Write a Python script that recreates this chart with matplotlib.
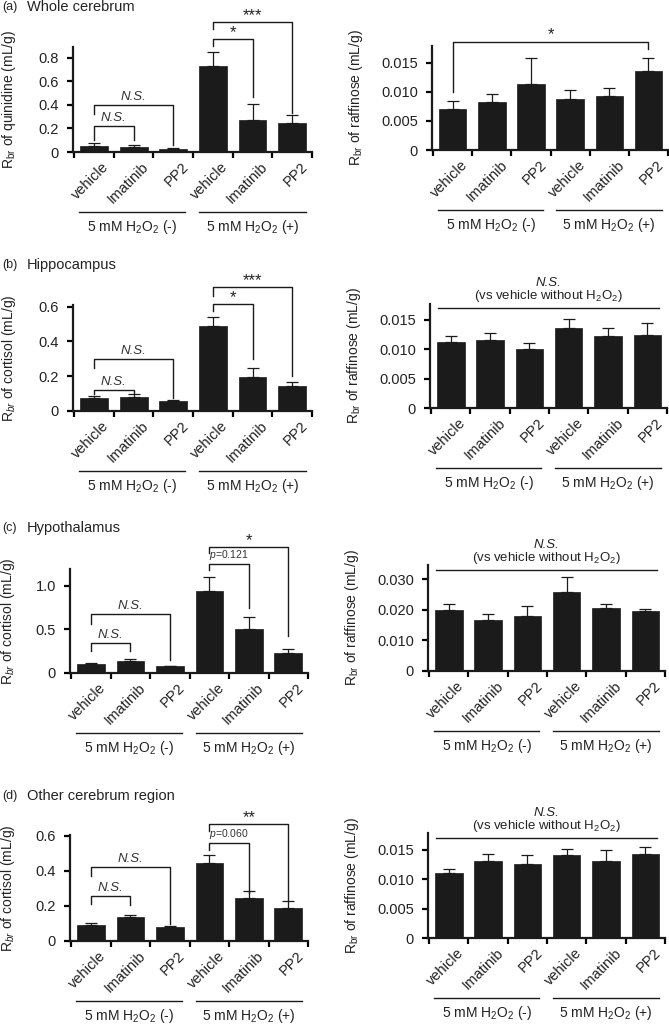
import numpy as np
import matplotlib
matplotlib.use("Agg")
import matplotlib.pyplot as plt
from matplotlib.transforms import ScaledTranslation

plt.rcParams["font.family"] = ["Liberation Sans", "DejaVu Sans"]
plt.rcParams["mathtext.fontset"] = "custom"
plt.rcParams["mathtext.rm"] = "Liberation Sans"
plt.rcParams["mathtext.it"] = "Liberation Sans:italic"

# ---- data ----
categories = ["vehicle", "Imatinib", "PP2", "vehicle", "Imatinib", "PP2"]
groups = ["5 mM H$_2$O$_2$ (-)", "5 mM H$_2$O$_2$ (+)"]

a_quin_mean = [0.050, 0.040, 0.025, 0.730, 0.270, 0.250]
a_quin_err = [0.025, 0.022, 0.006, 0.118, 0.140, 0.065]
a_raf_mean = [0.0071, 0.0083, 0.0114, 0.0087, 0.0093, 0.0136]
a_raf_err = [0.0013, 0.0013, 0.0045, 0.0016, 0.0014, 0.0023]

b_cort_mean = [0.077, 0.083, 0.058, 0.487, 0.194, 0.142]
b_cort_err = [0.007, 0.013, 0.004, 0.055, 0.052, 0.023]
b_raf_mean = [0.0112, 0.0116, 0.0100, 0.0137, 0.0123, 0.0125]
b_raf_err = [0.0011, 0.0011, 0.0010, 0.0014, 0.0013, 0.0020]

c_cort_mean = [0.100, 0.140, 0.076, 0.947, 0.508, 0.229]
c_cort_err = [0.010, 0.020, 0.008, 0.153, 0.133, 0.046]
c_raf_mean = [0.0201, 0.0168, 0.0181, 0.0260, 0.0207, 0.0197]
c_raf_err = [0.0018, 0.0020, 0.0031, 0.0047, 0.0013, 0.0007]

d_cort_mean = [0.094, 0.138, 0.077, 0.443, 0.243, 0.189]
d_cort_err = [0.008, 0.013, 0.008, 0.046, 0.044, 0.037]
d_raf_mean = [0.0110, 0.0130, 0.0126, 0.0141, 0.0131, 0.0143]
d_raf_err = [0.0007, 0.0013, 0.0014, 0.0010, 0.0019, 0.0011]

# brackets: (x1, x2, y_top, y_left_end, y_right_end, label)
a_quin_brackets = [(0, 1, 0.224, 0.10, 0.10, "N.S."), (0, 2, 0.40, 0.318, 0.06, "N.S."),
                   (3, 4, 0.96, 0.90, 0.47, "*"), (3, 5, 1.10, 1.04, 0.33, "***")]
a_raf_brackets = [(0, 5, 0.01866, 0.0100, 0.01746, "*")]
b_cort_brackets = [(0, 1, 0.121, 0.095, 0.105, "N.S."), (0, 2, 0.298, 0.246, 0.073, "N.S."),
                   (3, 4, 0.615, 0.573, 0.298, "*"), (3, 5, 0.712, 0.663, 0.202, "***")]
c_cort_brackets = [(0, 1, 0.344, 0.248, 0.248, "N.S."), (0, 2, 0.676, 0.565, 0.153, "N.S."),
                   (3, 4, 1.248, 1.183, 0.744, "p=0.121"), (3, 5, 1.443, 1.374, 0.42, "*")]
d_cort_brackets = [(0, 1, 0.255, 0.209, 0.205, "N.S."), (0, 2, 0.421, 0.368, 0.097, "N.S."),
                   (3, 4, 0.557, 0.519, 0.274, "p=0.060"), (3, 5, 0.666, 0.628, 0.236, "**")]
raf_ns_y = {"b": 0.0170, "c": 0.0332, "d": 0.01687}

W, H, DPI = 669, 1024, 100
fig = plt.figure(figsize=(W / DPI, H / DPI), dpi=DPI)


def make_axes(x0, x1, ytop, ybot):
    return fig.add_axes([x0 / W, 1 - ybot / H, (x1 - x0) / W, (ybot - ytop) / H])


def offset(dx, dy):
    return ScaledTranslation(dx / DPI, dy / DPI, fig.dpi_scale_trans)


def draw_panel(ax, mean, err, ylim, yticks, yticklabels, ylabel, label_x):
    x = np.arange(len(mean))
    ax.bar(x, mean, width=0.7, color="#1b1b1b", edgecolor="#1b1b1b", lw=0.5, zorder=2)
    ax.errorbar(x, mean, yerr=[np.zeros(len(err)), err], fmt="none", ecolor="#1b1b1b",
                elinewidth=0.9, capsize=4, capthick=0.9, zorder=1)
    ax.set_xlim(-0.53, 5.5)
    ax.set_ylim(*ylim)
    for s in ["top", "right"]:
        ax.spines[s].set_visible(False)
    for s in ["left", "bottom"]:
        ax.spines[s].set_linewidth(1.6)
        ax.spines[s].set_color("#1b1b1b")
    ax.set_xticks(np.arange(-0.5, 6, 1.0))
    ax.set_xticklabels([])
    ax.tick_params(axis="x", which="major", length=4, width=1.6, direction="out")
    ax.set_yticks(yticks)
    ax.set_yticklabels(yticklabels, fontsize=10.5, color="#222222")
    ax.tick_params(axis="y", length=4, width=1.6, direction="out", pad=6)
    tr = ax.get_xaxis_transform() + offset(13, -13)
    for xi, c in zip(x, categories):
        ax.text(xi, 0, c, rotation=45, ha="right", va="center", rotation_mode="anchor",
                fontsize=10.5, color="#222222", transform=tr)
    # group lines and labels below
    trl = ax.get_xaxis_transform() + offset(0, -60)
    ax.plot([-0.38, 2.3], [0, 0], color="#1b1b1b", lw=1.0, transform=trl, clip_on=False)
    ax.plot([2.65, 5.35], [0, 0], color="#1b1b1b", lw=1.0, transform=trl, clip_on=False)
    trt = ax.get_xaxis_transform() + offset(0, -75)
    for gx, g in zip([0.97, 4.0], groups):
        ax.text(gx, 0, g, ha="center", va="center", fontsize=10, color="#222222",
                transform=trt)
    ax.set_ylabel(ylabel, fontsize=10, color="#222222")
    ax.yaxis.set_label_coords(label_x, 0.5)


def draw_brackets(ax, brackets):
    for x1, x2, yt, yl, yr, lab in brackets:
        ax.plot([x1, x1, x2, x2], [yl, yt, yt, yr], color="#1b1b1b", lw=1.0, clip_on=False)
        tr = ax.transData + offset(0, 2)
        if lab == "N.S.":
            ax.text((x1 + x2) / 2, yt, lab, style="italic", ha="center", va="bottom",
                    fontsize=9.5, color="#333333", transform=tr)
        elif lab.startswith("p="):
            ax.text((x1 + x2) / 2, yt, "$p$" + lab[1:], ha="center", va="bottom",
                    fontsize=7.5, color="#333333", transform=tr)
        else:
            ax.text((x1 + x2) / 2, yt, lab, ha="center", va="bottom", fontsize=12,
                    color="#222222", transform=ax.transData + offset(0, -1))


def draw_ns_line(ax, y):
    ax.plot([-0.33, 5.3], [y, y], color="#1b1b1b", lw=1.0, clip_on=False)
    ax.text(2.48, y, "(vs vehicle without H$_2$O$_2$)", ha="center", va="bottom",
            fontsize=9.5, color="#222222", transform=ax.transData + offset(0, 4))
    ax.text(2.48, y, "N.S.", style="italic", ha="center", va="bottom", fontsize=9.5,
            color="#222222", transform=ax.transData + offset(0, 19))


quin_lab = "R$_{\\mathrm{br}}$ of quinidine (mL/g)"
cort_lab = "R$_{br}$ of cortisol (mL/g)"
raf_lab = "R$_{\\mathrm{br}}$ of raffinose (mL/g)"
left_ticks = ["0", "0.2", "0.4", "0.6", "0.8"]
raf_ticks = ["0", "0.005", "0.010", "0.015"]

# (a)
ax = make_axes(73, 312, 47, 152)
draw_panel(ax, a_quin_mean, a_quin_err, (0, 0.89), [0, 0.2, 0.4, 0.6, 0.8], left_ticks,
           quin_lab, -0.232)
draw_brackets(ax, a_quin_brackets)
ax = make_axes(432, 668, 46, 150)
draw_panel(ax, a_raf_mean, a_raf_err, (0, 0.0179), [0, 0.005, 0.010, 0.015], raf_ticks,
           raf_lab, -0.283)
draw_brackets(ax, a_raf_brackets)

# (b)
ax = make_axes(73, 312, 305, 411)
draw_panel(ax, b_cort_mean, b_cort_err, (0, 0.61), [0, 0.2, 0.4, 0.6], left_ticks[:4],
           cort_lab, -0.232)
draw_brackets(ax, b_cort_brackets)
ax = make_axes(430, 667, 304, 408)
draw_panel(ax, b_raf_mean, b_raf_err, (0, 0.0177), [0, 0.005, 0.010, 0.015], raf_ticks,
           raf_lab, -0.283)
draw_ns_line(ax, raf_ns_y["b"])

# (c)
ax = make_axes(70, 308, 569, 673)
draw_panel(ax, c_cort_mean, c_cort_err, (0, 1.195), [0, 0.5, 1.0], ["0", "0.5", "1.0"],
           cort_lab, -0.222)
draw_brackets(ax, c_cort_brackets)
ax = make_axes(428, 665, 565, 671)
draw_panel(ax, c_raf_mean, c_raf_err, (0, 0.0347), [0, 0.010, 0.020, 0.030],
           ["0", "0.010", "0.020", "0.030"], raf_lab, -0.283)
draw_ns_line(ax, raf_ns_y["c"])

# (d)
ax = make_axes(70, 308, 835, 941)
draw_panel(ax, d_cort_mean, d_cort_err, (0, 0.604), [0, 0.2, 0.4, 0.6], left_ticks[:4],
           cort_lab, -0.222)
draw_brackets(ax, d_cort_brackets)
ax = make_axes(428, 665, 833, 938)
draw_panel(ax, d_raf_mean, d_raf_err, (0, 0.0178), [0, 0.005, 0.010, 0.015], raf_ticks,
           raf_lab, -0.283)
draw_ns_line(ax, raf_ns_y["d"])

# panel titles
for tag, name, ypx in [("(a)", "Whole cerebrum", 7), ("(b)", "Hippocampus", 265),
                       ("(c)", "Hypothalamus", 528), ("(d)", "Other cerebrum region", 796)]:
    fig.text(2 / W, 1 - ypx / H, tag, fontsize=9, va="center", ha="left", color="#222222")
    fig.text(27 / W, 1 - ypx / H, name, fontsize=10.5, va="center", ha="left", color="#222222")

fig.savefig("out.png", dpi=DPI)
